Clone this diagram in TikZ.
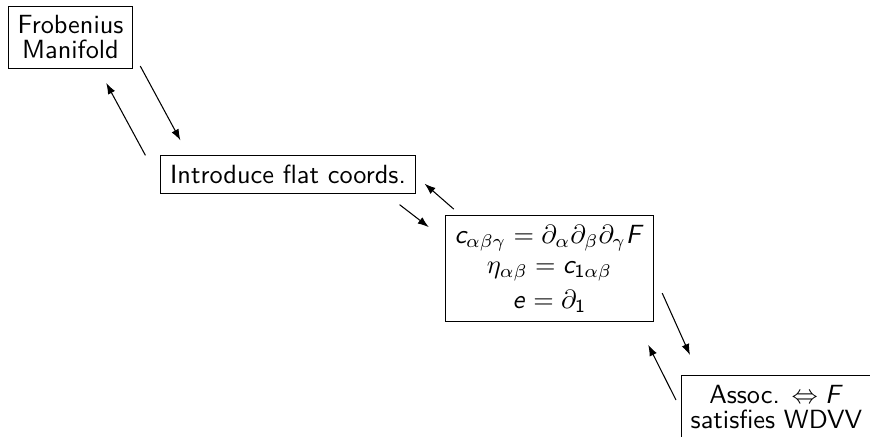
\documentclass[tikz,border=0pt]{standalone}
\usepackage{tikz}
\usetikzlibrary{arrows.meta, calc}
\DeclareMathAlphabet{\mathsfsl}{OT1}{cmss}{m}{sl}
\DeclareMathAlphabet{\mathsfup}{OT1}{cmss}{m}{n}

\begin{document}
\begin{tikzpicture}[x=0.38pt, y=-0.38pt,
  stage/.style={draw, align=center, inner sep=3.5pt,
    font=\sffamily\fontsize{10}{9.5}\selectfont},
  flow/.style={-{Latex[length=4.2pt, width=3pt]}, line width=0.4pt}]
\useasboundingbox (0,0) rectangle (870,437);
\clip (0,0) rectangle (870,437);

% the four stages
\node[stage] (fm) at (70.5,37.5) {Frobenius\\Manifold};
\node[stage] (flat) at (288,174.5) {Introduce flat coords.};
\node[stage] (eqs) at (549.5,268.5)
  {$\mathsfsl{c}_{\alpha\beta\gamma}=\partial_\alpha\partial_\beta\partial_\gamma\mathsfsl{F}$\\[2.2pt]
   $\eta_{\alpha\beta}=\mathsfsl{c}_{\mathsfup{1}\alpha\beta}$\\[2.2pt]
   $\mathsfsl{e}=\partial_{\mathsfup{1}}$};
\node[stage, anchor=north west] (wdvv) at (681,375)
  {Assoc. $\Leftrightarrow\mathsfsl{F}$\\satisfies WDVV};

% forth and back
\draw[flow] ($(fm.south east)+(7,-3)$) -- ($(flat.north west)+(20,-15)$);
\draw[flow] ($(flat.north west)+(-15,0)$) -- ($(fm.south east)+(-27,14)$);
\draw[flow] ($(flat.south east)+(-16,11)$) -- ($(eqs.north west)+(-16,12)$);
\draw[flow] ($(eqs.north west)+(9,-6)$) -- ($(flat.south east)+(9,-10)$);
\draw[flow] ($(eqs.north east)+(8,78)$) -- ($(wdvv.north west)+(9,-20)$);
\draw[flow] ($(wdvv.north west)+(-5,25)$) -- ($(eqs.south east)+(-6,23)$);
\end{tikzpicture}
\end{document}
